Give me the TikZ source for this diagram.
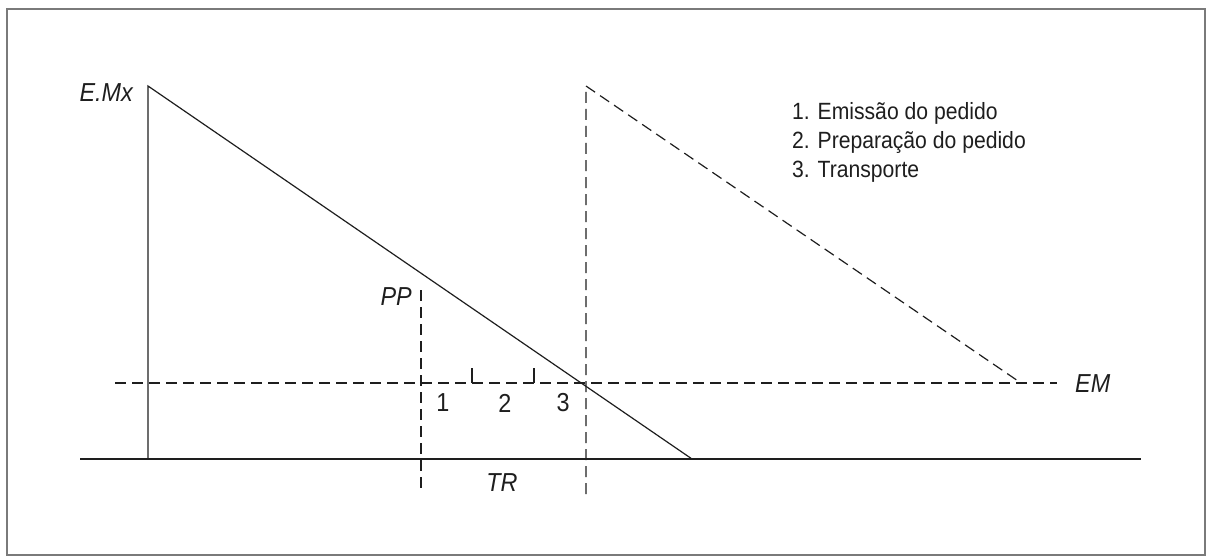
\documentclass[tikz,border=0pt]{standalone}
\usepackage{fontspec}
\setmainfont[FakeStretch=0.9]{Liberation Sans}
\usepackage{xcolor}
\usetikzlibrary{positioning}
\definecolor{inkgray}{HTML}{1E1E1E}
\definecolor{framegray}{HTML}{7A7A7A}
\tikzset{
  solidline/.style={draw=inkgray,line width=1.2pt},
  guideline/.style={draw=inkgray,line width=1.2pt,dash pattern=on 11pt off 6pt},
  axislabel/.style={font=\fontsize{26}{30}\selectfont\itshape,inner sep=0pt,text=inkgray},
  phaselabel/.style={font=\fontsize{26}{30}\selectfont,inner sep=0pt,text=inkgray},
}
\begin{document}
\begin{tikzpicture}[x=1pt,y=-1pt]
\useasboundingbox (0,0) rectangle (1207,559);
\draw[framegray,line width=1.5pt] (7,9) rectangle (1205,555);

% stock curve
\coordinate (emax) at (148,86);
\coordinate (emaxfoot) at (148,459);
\coordinate (axisL) at (80,459);
\coordinate (axisR) at (1141,459);
\coordinate (zero) at (692,459);
\draw[solidline] (emaxfoot) -- (emax) -- (zero);
\draw[solidline] (axisL) -- (axisR);

% safety stock and reorder point
\coordinate (emL) at (115,383);
\coordinate (emR) at (1057,383);
\coordinate (ppTop) at (421,290);
\coordinate (ppBot) at (421,494);
\coordinate (newTop) at (586,86);
\coordinate (newBot) at (586,494);
\coordinate (newEnd) at (1021,383);
\draw[guideline] (emL) -- (emR);
\draw[guideline] (ppTop) -- (ppBot);
\draw[guideline] (newBot) -- (newTop) -- (newEnd);

% phase ticks
\coordinate (tickA) at (472,383);
\coordinate (tickB) at (534,383);
\draw[solidline] (tickA) -- ++(0,-15);
\draw[solidline] (tickB) -- ++(0,-15);

\node[axislabel,anchor=east] (lblEMx) at (133,93) {E.Mx};
\node[axislabel,anchor=east] (lblPP) at (412,297) {PP};
\node[axislabel,anchor=west] (lblEM) at (1075,384) {EM};
\node[axislabel] (lblTR) at (502,483) {TR};
\node[phaselabel] (ph1) at (443,403) {1};
\node[phaselabel] (ph2) at (505,403) {2};
\node[phaselabel] (ph3) at (563,403) {3};

\node[phaselabel,anchor=north west,align=left,
      font=\fontsize{23.5}{29}\selectfont] (legend) at (792,102) {%
  1. Emissão do pedido\\
  2. Preparação do pedido\\
  3. Transporte};
\end{tikzpicture}
\end{document}
